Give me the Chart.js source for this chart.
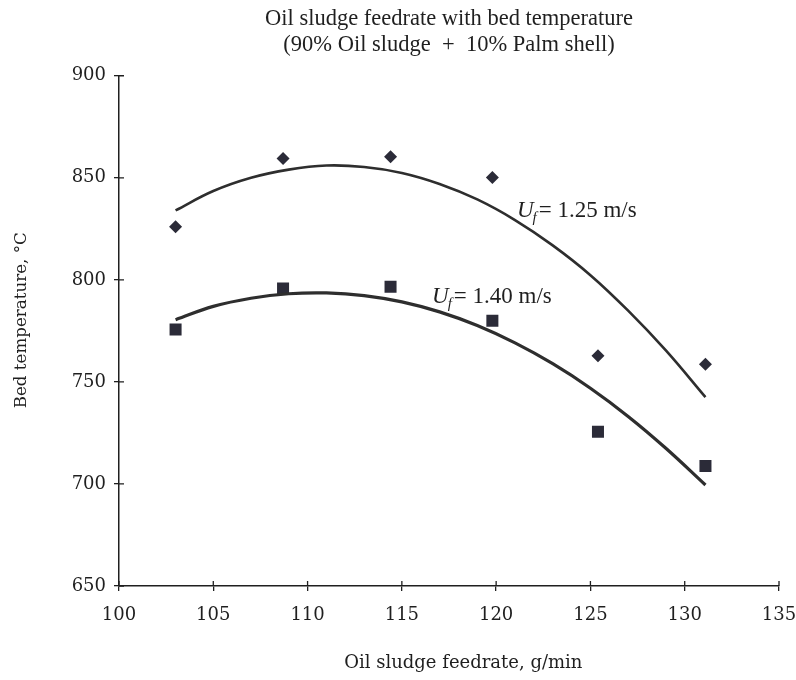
<!DOCTYPE html>
<html>
<head>
<meta charset="utf-8">
<script src="https://cdn.jsdelivr.net/npm/chart.js@4.4.1/dist/chart.umd.min.js"></script>
<style>
  body { margin: 0; background: #fff; }
  #wrap { width: 796px; height: 680px; }
</style>
</head>
<body>
<div id="wrap"><canvas id="myChart" width="796" height="680"></canvas></div>
<script>
// measured points
var feedrate = [103, 108.7, 114.4, 119.8, 125.4, 131.1];
var tempU125 = [826, 859.5, 860.3, 850.2, 762.8, 758.6];
var tempU140 = [775.7, 795.8, 796.6, 780, 725.6, 708.8];

// fitted curves
var fitX = [103, 105, 107, 109, 111, 113, 115, 117, 119, 121, 123, 125, 127, 129, 131.1];
var fitU125 = [834, 843.5, 850, 854, 856, 855.3, 852.4, 847, 839.4, 829.3, 816.9, 802.3, 784.9, 765.4, 742.5];
var fitU140 = [780.5, 787, 791, 793.2, 793.6, 792.3, 789.2, 784.3, 777.6, 769.1, 758.9, 746.9, 733.1, 717.5, 699.5];

var seriesLabels = ['1.25 m/s', '1.40 m/s'];
var labelAt = [[121.1, 831], [116.6, 788.5]];

var serif = '"Liberation Serif", "Times New Roman", serif';
var wide = '"DejaVu Serif", serif';
var ink = '#1f1f1f';
var pad = '\u00a0\u00a0\u00a0\u00a0\u00a0';

function pairs(xs, ys) {
  var out = [];
  for (var i = 0; i < xs.length; i++) out.push({x: xs[i], y: ys[i]});
  return out;
}

// tick marks that cross the axis line (inner half)
var crossTicks = {
  id: 'crossTicks',
  afterDraw: function(chart) {
    var ctx = chart.ctx, area = chart.chartArea;
    var xs = chart.scales.x, ys = chart.scales.y;
    ctx.save();
    ctx.strokeStyle = ink;
    ctx.lineWidth = 1.3;
    ctx.beginPath();
    xs.ticks.forEach(function(t) {
      var px = xs.getPixelForValue(t.value);
      ctx.moveTo(px, area.bottom);
      ctx.lineTo(px, area.bottom - 5);
    });
    ys.ticks.forEach(function(t) {
      var py = ys.getPixelForValue(t.value);
      ctx.moveTo(area.left, py);
      ctx.lineTo(area.left + 5, py);
    });
    ctx.stroke();
    ctx.restore();
  }
};

// "Uf = ..." labels next to curves
var curveLabels = {
  id: 'curveLabels',
  afterDatasetsDraw: function(chart) {
    var ctx = chart.ctx;
    var xs = chart.scales.x, ys = chart.scales.y;
    ctx.save();
    ctx.fillStyle = ink;
    ctx.textBaseline = 'alphabetic';
    for (var i = 0; i < labelAt.length; i++) {
      var px = xs.getPixelForValue(labelAt[i][0]);
      var py = ys.getPixelForValue(labelAt[i][1]);
      ctx.font = 'italic 23px ' + serif;
      ctx.fillText('U', px, py);
      var w = ctx.measureText('U').width;
      ctx.font = 'italic 15px ' + serif;
      ctx.fillText('f', px + w - 1, py + 5);
      w += ctx.measureText('f').width;
      ctx.font = '23px ' + serif;
      ctx.fillText('= ' + seriesLabels[i], px + w + 1, py);
    }
    ctx.restore();
  }
};

var cx = document.getElementById('myChart');
var myChart = new Chart(cx, {
  type: 'scatter',
  data: {
    datasets: [{
      label: 'Uf = 1.25 fit',
      type: 'line',
      data: pairs(fitX, fitU125),
      borderColor: '#2e2e2e',
      borderWidth: 2.6,
      pointRadius: 0,
      tension: 0.4,
      fill: false
    }, {
      label: 'Uf = 1.40 fit',
      type: 'line',
      data: pairs(fitX, fitU140),
      borderColor: '#2e2e2e',
      borderWidth: 3.2,
      pointRadius: 0,
      tension: 0.4,
      fill: false
    }, {
      label: 'Uf = 1.25 m/s',
      data: pairs(feedrate, tempU125),
      pointStyle: 'rectRot',
      pointRadius: 6.5,
      backgroundColor: '#2b2b38',
      borderColor: '#2b2b38',
      borderWidth: 0
    }, {
      label: 'Uf = 1.40 m/s',
      data: pairs(feedrate, tempU140),
      pointStyle: 'rect',
      pointRadius: 8.5,
      backgroundColor: '#2b2b38',
      borderColor: '#2b2b38',
      borderWidth: 0
    }]
  },
  options: {
    responsive: false,
    animation: false,
    layout: { padding: { left: 0, right: 17, top: 0, bottom: 0 } },
    plugins: {
      legend: { display: false },
      tooltip: { enabled: false },
      title: {
        display: true,
        fullSize: false,
        text: ['Oil sludge feedrate with bed temperature', '(90% Oil sludge  +  10% Palm shell)'],
        color: ink,
        font: { family: serif, size: 22.5, weight: 'normal', lineHeight: 1.15 },
        padding: { top: 6, bottom: 18 }
      }
    },
    scales: {
      x: {
        type: 'linear',
        min: 100,
        max: 135,
        ticks: { stepSize: 5, color: ink, padding: 14, font: { family: wide, size: 18 } },
        grid: { display: true, drawOnChartArea: false, drawTicks: true, tickLength: 5, color: ink, lineWidth: 1.3 },
        border: { display: true, color: ink, width: 1.5 },
        title: {
          display: true,
          text: pad + 'Oil sludge feedrate, g/min',
          color: ink,
          font: { family: wide, size: 18 },
          padding: { top: 0, bottom: 6 }
        },
        afterFit: function(scale) { scale.height = 94; scale.paddingRight = 0; }
      },
      y: {
        type: 'linear',
        min: 650,
        max: 900,
        ticks: { stepSize: 50, color: ink, padding: 8, font: { family: wide, size: 18 } },
        grid: { display: true, drawOnChartArea: false, drawTicks: true, tickLength: 5, color: ink, lineWidth: 1.3 },
        border: { display: true, color: ink, width: 1.5 },
        title: {
          display: true,
          text: '\u00a0\u00a0\u00a0\u00a0Bed temperature, °C',
          color: ink,
          font: { family: wide, size: 16.7 },
          padding: { top: 12, bottom: 0 }
        },
        afterFit: function(scale) { scale.width = 119; }
      }
    }
  },
  plugins: [crossTicks, curveLabels]
});
</script>
</body>
</html>
